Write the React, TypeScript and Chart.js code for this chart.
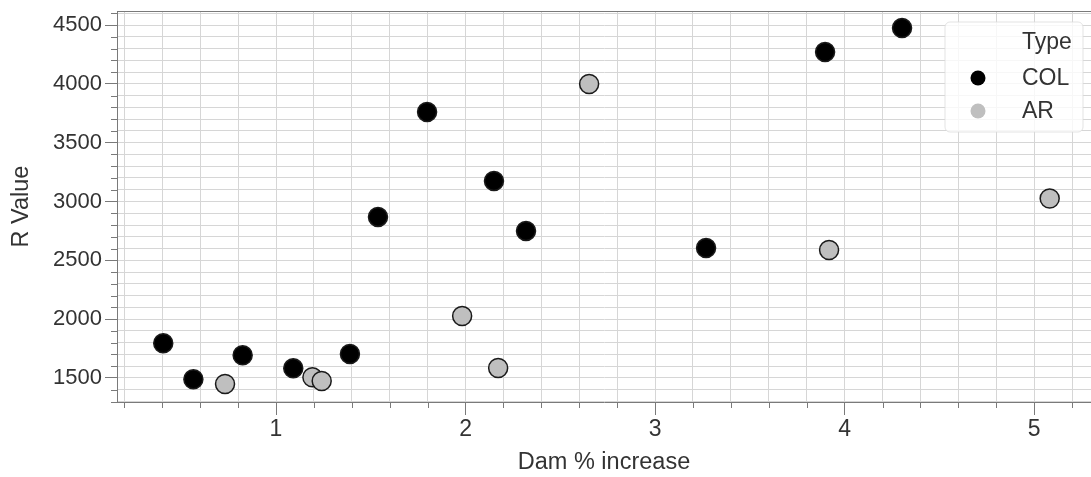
import React, { useEffect, useRef } from "react";
import { Chart, registerables } from "chart.js";

Chart.register(...registerables);

// ---- data ----
const COL_X = [0.405, 0.564, 0.824, 1.091, 1.39, 1.538, 1.797, 2.15, 2.319, 3.269, 3.897, 4.303];
const COL_Y = [1795, 1489, 1693, 1582, 1704, 2869, 3761, 3175, 2750, 2605, 4271, 4475];
const AR_X = [0.731, 1.192, 1.241, 1.982, 2.172, 2.652, 3.918, 5.082];
const AR_Y = [1449, 1506, 1474, 2027, 1585, 3999, 2588, 3025];

const SERIES_NAMES = ["COL", "AR"];
const LEGEND_TITLE = "Type";
const X_TITLE = "Dam % increase";
const Y_TITLE = "R Value";

const X_TICK_LABELS = [1, 2, 3, 4, 5];
const Y_TICK_LABELS = [1500, 2000, 2500, 3000, 3500, 4000, 4500];
const X_MINOR_TICKS = [0.2, 0.4, 0.6, 0.8, 1, 1.2, 1.4, 1.6, 1.8, 2, 2.2, 2.4, 2.6, 2.8, 3, 3.2, 3.4, 3.6, 3.8, 4, 4.2, 4.4, 4.6, 4.8, 5, 5.2];
const Y_MINOR_TICKS = [1300, 1400, 1500, 1600, 1700, 1800, 1900, 2000, 2100, 2200, 2300, 2400, 2500, 2600, 2700, 2800, 2900, 3000, 3100, 3200, 3300, 3400, 3500, 3600, 3700, 3800, 3900, 4000, 4100, 4200, 4300, 4400, 4500, 4600];
const X_MIN = 0.161;
const X_MAX = 5.3;
const Y_MIN = 1296;
const Y_MAX = 4619;

// ---- styles ----
const FONT = "'Liberation Sans', Arial, Helvetica, sans-serif";
const TEXT = "#333333";
const AXIS = "#7a7a7a";
const GRID = "#d6d6d6";
const COL_FILL = "#000000";
const AR_FILL = "#bfbfbf";
const MARK_EDGE = "#1a1a1a";

const isMajor = (v: number, arr: number[]) => arr.some((m) => Math.abs(m - v) < 1e-6);

const decorPlugin = {
  id: "decor",
  beforeDatasetsDraw(chart: any) {
    const { ctx, chartArea } = chart;
    const xs = chart.scales.x;
    const ys = chart.scales.y;
    ctx.save();
    ctx.strokeStyle = AXIS;
    ctx.lineWidth = 1;
    ctx.beginPath();
    // top frame line
    ctx.moveTo(chartArea.left, Math.round(chartArea.top) + 0.5);
    ctx.lineTo(chartArea.right, Math.round(chartArea.top) + 0.5);
    // minor ticks
    X_MINOR_TICKS.forEach((v) => {
      if (isMajor(v, X_TICK_LABELS)) return;
      const px = Math.round(xs.getPixelForValue(v)) + 0.5;
      ctx.moveTo(px, chartArea.bottom);
      ctx.lineTo(px, chartArea.bottom + 6);
    });
    Y_MINOR_TICKS.forEach((v) => {
      if (isMajor(v, Y_TICK_LABELS)) return;
      const py = Math.round(ys.getPixelForValue(v)) + 0.5;
      ctx.moveTo(chartArea.left - 6, py);
      ctx.lineTo(chartArea.left, py);
    });
    ctx.stroke();
    ctx.restore();
  },
  afterDraw(chart: any) {
    const { ctx } = chart;
    ctx.save();
    // legend box
    const bx = 945, by = 22, bw = 138, bh = 110, r = 5;
    ctx.beginPath();
    ctx.moveTo(bx + r, by);
    ctx.arcTo(bx + bw, by, bx + bw, by + bh, r);
    ctx.arcTo(bx + bw, by + bh, bx, by + bh, r);
    ctx.arcTo(bx, by + bh, bx, by, r);
    ctx.arcTo(bx, by, bx + bw, by, r);
    ctx.closePath();
    ctx.fillStyle = "rgba(255,255,255,0.8)";
    ctx.fill();
    ctx.strokeStyle = "rgba(220,220,220,0.8)";
    ctx.lineWidth = 1;
    ctx.stroke();

    ctx.fillStyle = TEXT;
    ctx.font = `23px ${FONT}`;
    ctx.textBaseline = "middle";
    ctx.textAlign = "left";
    ctx.fillText(LEGEND_TITLE, 1022, 43);
    const fills = [COL_FILL, AR_FILL];
    const ys = [78, 111];
    SERIES_NAMES.forEach((name, i) => {
      ctx.beginPath();
      ctx.arc(978, ys[i], 7.5, 0, Math.PI * 2);
      ctx.fillStyle = fills[i];
      ctx.fill();
      ctx.fillStyle = TEXT;
      ctx.fillText(name, 1022, ys[i] + 1);
    });
    ctx.restore();
  },
};

export default function App() {
  const ref = useRef<HTMLCanvasElement | null>(null);

  useEffect(() => {
    document.body.style.margin = "0";
    const canvas = ref.current;
    if (!canvas) return;
    const chart = new Chart(canvas, {
      type: "scatter",
      data: {
        datasets: [
          {
            label: SERIES_NAMES[0],
            data: COL_X.map((x, i) => ({ x, y: COL_Y[i] })),
            backgroundColor: COL_FILL,
            borderColor: MARK_EDGE,
            borderWidth: 1.5,
            pointRadius: 9.5,
            order: 2,
          },
          {
            label: SERIES_NAMES[1],
            data: AR_X.map((x, i) => ({ x, y: AR_Y[i] })),
            backgroundColor: AR_FILL,
            borderColor: MARK_EDGE,
            borderWidth: 1.5,
            pointRadius: 9.5,
            order: 1,
          },
        ],
      },
      options: {
        responsive: false,
        animation: false,
        layout: { autoPadding: false, padding: { top: 11, right: 0, left: 0, bottom: 0 } },
        plugins: {
          legend: { display: false },
          tooltip: { enabled: false },
        },
        scales: {
          x: {
            type: "linear",
            min: X_MIN,
            max: X_MAX,
            afterBuildTicks: (s: any) => {
              s.ticks = X_MINOR_TICKS.map((v) => ({ value: v }));
            },
            afterFit: (s: any) => {
              s.height = 75;
              s.paddingLeft = 0;
              s.paddingRight = 0;
            },
            ticks: {
              autoSkip: false,
              maxRotation: 0,
              padding: 1,
              color: TEXT,
              font: { family: FONT, size: 23 },
              callback: (v: any) => (isMajor(Number(v), X_TICK_LABELS) ? String(v) : ""),
            },
            grid: {
              color: GRID,
              lineWidth: 1,
              drawTicks: true,
              tickLength: 13,
              tickColor: (c: any) => (c.tick && isMajor(c.tick.value, X_TICK_LABELS) ? AXIS : "rgba(0,0,0,0)"),
            },
            border: { display: true, color: AXIS, width: 1 },
            title: {
              display: true,
              text: X_TITLE,
              color: TEXT,
              font: { family: FONT, size: 23.5 },
              padding: { top: 0, bottom: 0 },
            },
          },
          y: {
            type: "linear",
            min: Y_MIN,
            max: Y_MAX,
            afterBuildTicks: (s: any) => {
              s.ticks = Y_MINOR_TICKS.map((v) => ({ value: v }));
            },
            afterFit: (s: any) => {
              s.width = 117;
              s.paddingTop = 0;
              s.paddingBottom = 0;
            },
            ticks: {
              autoSkip: false,
              padding: 3,
              color: TEXT,
              font: { family: FONT, size: 22 },
              callback: (v: any) => (isMajor(Number(v), Y_TICK_LABELS) ? String(v) : ""),
            },
            grid: {
              color: GRID,
              lineWidth: 1,
              drawTicks: true,
              tickLength: 12,
              tickColor: (c: any) => (c.tick && isMajor(c.tick.value, Y_TICK_LABELS) ? AXIS : "rgba(0,0,0,0)"),
            },
            border: { display: true, color: AXIS, width: 1 },
            title: {
              display: true,
              text: Y_TITLE,
              color: TEXT,
              font: { family: FONT, size: 23.5 },
              padding: { top: 7, bottom: 0 },
            },
          },
        },
      },
      plugins: [decorPlugin],
    });
    return () => chart.destroy();
  }, []);

  return (
    <div style={{ width: 1091, height: 477 }}>
      <canvas ref={ref} width={1091} height={477} style={{ display: "block" }} />
    </div>
  );
}
